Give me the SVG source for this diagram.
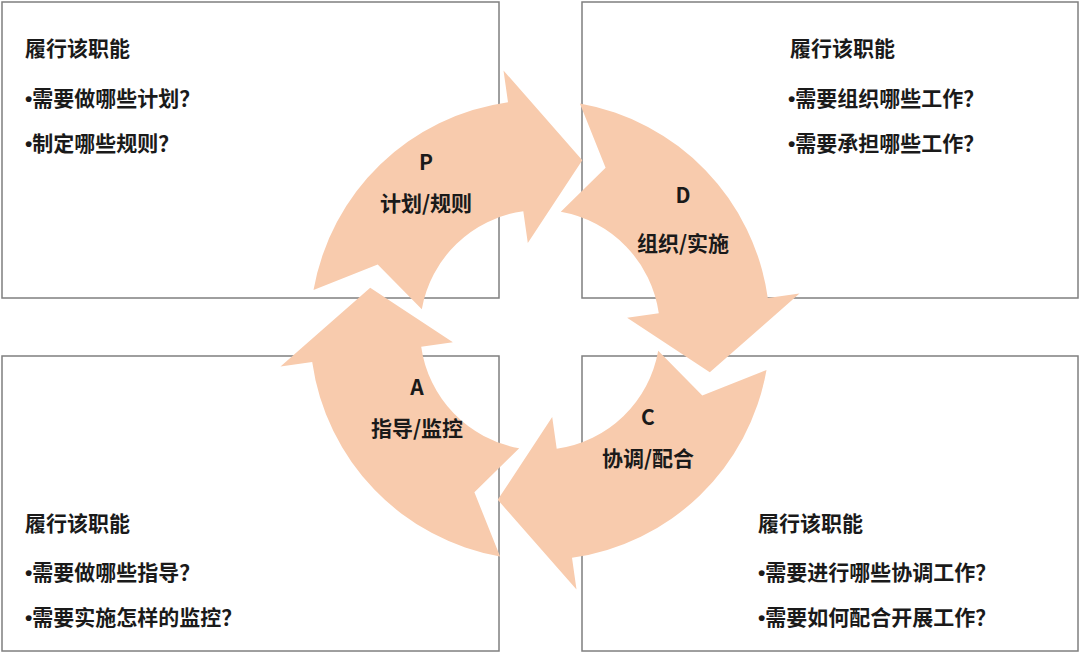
<svg xmlns="http://www.w3.org/2000/svg" width="1080" height="653" viewBox="0 0 1080 653">
<style>
.box{fill:#fff;stroke:#7f7f7f;stroke-width:1.5}
.arr{fill:#f8cbad}
text{font-family:"Noto Sans CJK SC","Liberation Sans",sans-serif;font-size:21px;font-weight:bold;fill:#1a1a1a}
.b{font-family:"Liberation Sans",sans-serif}
.c{text-anchor:middle}
</style>
<defs>
<path id="seg" class="arr" d="M313.5,290.1 A230,230 0 0 1 508.0,102.2 L503.5,70.5 L582.3,160.2 L527.8,242.9 L523.3,211.2 A120,120 0 0 0 421.8,309.2 L377.7,264.4 Z"/>
</defs>
<g id="box-tl"><rect class="box" x="2" y="2" width="497" height="296"/>
<text x="25" y="56">履行该职能</text><text x="25" y="106"><tspan class="b">•</tspan>需要做哪些计划？</text><text x="25" y="151"><tspan class="b">•</tspan>制定哪些规则？</text></g>
<g id="box-tr"><rect class="box" x="582" y="2" width="496" height="296"/>
<text x="790" y="56">履行该职能</text><text x="788" y="106"><tspan class="b">•</tspan>需要组织哪些工作？</text><text x="788" y="151"><tspan class="b">•</tspan>需要承担哪些工作？</text></g>
<g id="box-bl"><rect class="box" x="2" y="356" width="497" height="295"/>
<text x="25" y="531">履行该职能</text><text x="25" y="580"><tspan class="b">•</tspan>需要做哪些指导？</text><text x="25" y="625"><tspan class="b">•</tspan>需要实施怎样的监控？</text></g>
<g id="box-br"><rect class="box" x="582" y="356" width="496" height="295"/>
<text x="758" y="531">履行该职能</text><text x="758" y="580"><tspan class="b">•</tspan>需要进行哪些协调工作？</text><text x="758" y="625"><tspan class="b">•</tspan>需要如何配合开展工作？</text></g>
<g id="connectors">
<use href="#seg"/>
<use href="#seg" transform="rotate(90 540 330)"/>
<use href="#seg" transform="rotate(180 540 330)"/>
<use href="#seg" transform="rotate(270 540 330)"/>
</g>
<g id="node-p"><text class="c" x="426" y="170">P</text><text class="c" x="426" y="211">计划/规则</text></g>
<g id="node-d"><text class="c" x="683" y="203">D</text><text class="c" x="683" y="251">组织/实施</text></g>
<g id="node-c"><text class="c" x="648" y="425">C</text><text class="c" x="648" y="466">协调/配合</text></g>
<g id="node-a"><text class="c" x="417" y="395">A</text><text class="c" x="417" y="436">指导/监控</text></g>
</svg>
